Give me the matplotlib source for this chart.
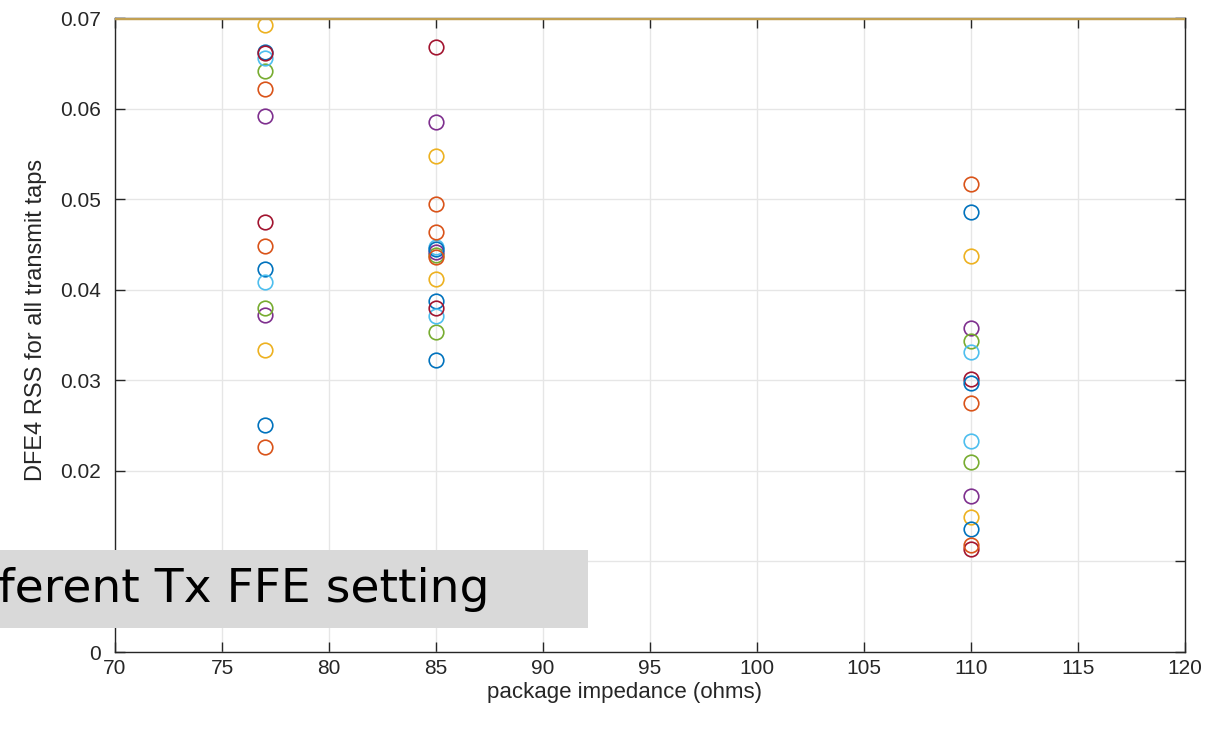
import matplotlib
matplotlib.use("Agg")
import matplotlib.pyplot as plt
from matplotlib.patches import Rectangle

# package impedance values (ohms)
impedance = [77, 85, 110]

# DFE4 RSS for each Tx FFE setting (one row per setting, one value per impedance)
rss = [
    [0.0662, 0.0388, 0.0486],
    [0.0622, 0.0495, 0.0517],
    [0.0692, 0.0548, 0.0437],
    [0.0592, 0.0585, 0.0358],
    [0.0641, 0.0438, 0.0343],
    [0.0656, 0.0447, 0.0331],
    [0.0661, 0.0668, 0.0301],
    [0.0423, 0.0322, 0.0297],
    [0.0448, 0.0464, 0.0275],
    [0.0333, 0.0412, 0.0149],
    [0.0372, 0.0442, 0.0172],
    [0.0380, 0.0353, 0.0210],
    [0.0408, 0.0371, 0.0233],
    [0.0475, 0.0380, 0.0114],
    [0.0251, 0.0445, 0.0136],
    [0.0226, 0.0436, 0.0118],
]

limit = 0.07

colors = ["#0072BD", "#D95319", "#EDB120", "#7E2F8E", "#77AC30", "#4DBEEE", "#A2142F"]

plt.rcParams["font.family"] = ["Liberation Sans", "DejaVu Sans"]

fig = plt.figure(figsize=(12.3, 7.35), dpi=100)
ax = fig.add_axes([0.0935, 0.1129, 0.8699, 0.8626])

for i, row in enumerate(rss):
    ax.plot(impedance, row, linestyle="none", marker="o", markersize=10.5,
            markerfacecolor="none", markeredgecolor=colors[i % len(colors)],
            markeredgewidth=1.2)

ax.axhline(limit, color="#C2A052", linewidth=3.2, zorder=5)

ax.set_xlim(70, 120)
ax.set_ylim(0, 0.07)
ax.set_xticks(range(70, 121, 5))
ax.set_yticks([0, 0.01, 0.02, 0.03, 0.04, 0.05, 0.06, 0.07])
ax.set_yticklabels(["0", "0.01", "0.02", "0.03", "0.04", "0.05", "0.06", "0.07"])
ax.grid(True, color="#E6E6E6", linewidth=1)
ax.set_axisbelow(True)
ax.tick_params(direction="in", length=7, width=1, colors="#262626",
               labelsize=15, top=True, right=True)
ax.tick_params(axis="y", pad=10)
ax.tick_params(axis="x", pad=5)
for s in ax.spines.values():
    s.set_color("#262626")
    s.set_linewidth(1)

ax.set_xlabel("package impedance (ohms)", fontsize=16, color="#262626")
ax.xaxis.set_label_coords(0.4766, -0.048)
ax.set_ylabel("DFE4 RSS for all transmit taps", fontsize=17, color="#262626")
ax.yaxis.set_label_coords(-0.064, 0.524)

# grey caption box pasted over the lower left of the chart
fig.patches.append(Rectangle((0, 1 - 628 / 735), 588 / 1230, 78 / 735,
                             transform=fig.transFigure, facecolor="#D9D9D9",
                             edgecolor="none", zorder=10))
fig.text(490 / 1230, 1 - 590 / 735, "Different Tx FFE setting", ha="right", va="center",
         fontsize=34, family="DejaVu Sans", color="black", zorder=11)

fig.savefig("out.png", dpi=100)
